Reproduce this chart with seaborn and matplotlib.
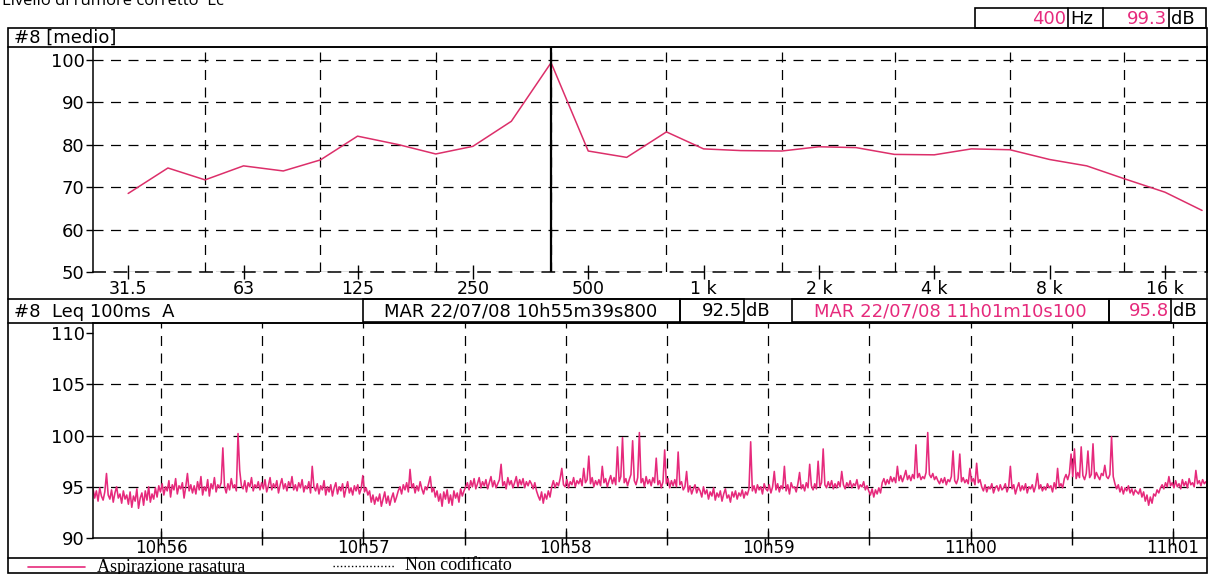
import numpy as np
import pandas as pd
import matplotlib
matplotlib.use('Agg')
import matplotlib.pyplot as plt
import matplotlib.dates as mdates
from matplotlib.patches import Rectangle
from matplotlib.ticker import NullFormatter
import seaborn as sns

# spettro medio in 1/3 di ottava (#8 [medio])
frequenze = [31.5, 40, 50, 63, 80, 100, 125, 160, 200, 250, 315, 400, 500, 630, 800,
             1000, 1250, 1600, 2000, 2500, 3150, 4000, 5000, 6300, 8000, 10000, 12500, 16000, 20000]
livelli_medi = [68.5, 74.5, 71.7, 75.0, 73.8, 76.4, 82.0, 80.0, 77.8, 79.6, 85.5, 99.3, 78.5, 77.0,
                83.0, 79.0, 78.6, 78.5, 79.5, 79.3, 77.7, 77.6, 79.0, 78.8, 76.5, 75.0, 72.0, 68.8, 64.5]
tick_freq = [31.5, 63, 125, 250, 500, 1000, 2000, 4000, 8000, 16000]
etichette_freq = ['31.5', '63', '125', '250', '500', '1 k', '2 k', '4 k', '8 k', '16 k']
griglia_freq = [50, 100, 200, 400, 800, 1600, 3150, 6300, 12500]
freq_cursore = 400

inizio = '2008-07-22 10:55:39.8'
fine = '2008-07-22 11:01:10.1'
livelli_leq = [
    94.8, 93.9, 94.6, 93.6, 94.9, 94.1, 93.7, 94.5, 96.3, 94.2, 93.8, 94.7, 93.5, 94.4, 95.0, 93.9, 94.3, 93.4, 94.6, 93.8,
    94.2, 93.3, 94.5, 93.0, 94.1, 93.6, 94.8, 92.9, 93.9, 94.4, 93.2, 94.6, 93.7, 95.0, 93.5, 94.3, 93.8, 94.9, 94.0, 95.1,
    94.5, 95.3, 94.2, 95.0, 94.6, 95.6, 94.0, 95.2, 94.7, 95.8, 94.3, 95.1, 94.8, 95.4, 93.9, 95.0, 96.3, 94.6, 95.2, 94.4,
    95.1, 94.3, 95.5, 94.7, 96.0, 94.2, 95.0, 94.6, 95.7, 94.1, 95.3, 94.8, 95.9, 94.5, 95.2, 94.9, 95.4, 98.8, 95.0, 94.4,
    95.3, 94.7, 95.8, 94.9, 95.2, 94.6, 100.2, 96.6, 95.1, 94.8, 95.6, 94.5, 95.4, 95.0, 95.9, 94.6, 95.2, 94.9, 95.5, 94.7,
    95.4, 94.8, 95.7, 94.5, 95.1, 95.9, 94.7, 95.3, 94.9, 95.6, 94.4, 95.2, 95.8, 94.8, 95.3, 94.6, 95.5, 95.0, 96.0, 94.7,
    95.2, 94.6, 95.4, 94.9, 95.7, 94.5, 95.1, 94.8, 95.5, 94.4, 97.0, 95.0, 94.6, 95.3, 94.3, 95.1, 94.7, 95.6, 94.2, 95.0,
    94.5, 95.2, 94.1, 94.9, 95.4, 94.3, 95.0, 94.6, 95.3, 94.0, 94.8, 95.5, 94.4, 94.9, 94.2, 95.1, 94.6, 95.2, 94.3, 94.8,
    96.1, 94.5, 94.9, 94.2, 94.6, 93.5, 94.2, 93.3, 94.0, 93.6, 94.3, 93.1, 93.8, 94.5, 93.4, 94.1, 93.2, 93.9, 94.4, 93.5,
    94.0, 94.6, 95.0, 94.3, 95.2, 94.7, 95.4, 94.5, 96.7, 94.9, 95.3, 94.4, 95.1, 94.6, 95.5, 94.8, 94.3, 95.0, 94.7, 95.3,
    96.0, 94.5, 94.9, 94.0, 94.6, 93.6, 94.3, 93.1, 94.5, 93.8, 94.7, 93.4, 94.2, 93.2, 94.6, 93.9, 94.4, 93.5, 94.8, 94.1,
    94.6, 95.0, 95.4, 94.7, 95.6, 95.0, 95.8, 94.8, 95.3, 95.9, 94.9, 95.5, 95.1, 95.7, 94.8, 95.4, 96.0, 95.0, 95.6, 94.9,
    95.3, 95.7, 97.2, 95.1, 95.5, 94.8, 95.9, 95.2, 95.6, 94.9, 95.4, 96.0, 95.0, 95.7, 95.2, 95.8, 94.9, 95.5, 95.1, 95.6,
    95.3, 94.8, 95.4, 94.6, 94.1, 93.7, 94.5, 93.4, 94.3, 93.8, 94.6, 94.0, 95.0, 95.6, 94.9, 95.4, 95.1, 95.8, 96.8, 95.2,
    95.0, 95.7, 94.9, 95.5, 95.2, 95.9, 95.0, 95.6, 95.3, 95.8, 95.1, 96.8, 95.4, 95.7, 98.0, 95.3, 95.9, 95.0, 95.6, 95.2,
    95.7, 95.1, 97.0, 95.4, 95.8, 95.0, 95.6, 96.1, 95.3, 95.9, 95.2, 98.9, 95.5, 96.0, 99.8, 95.4, 95.8, 95.1, 95.7, 96.2,
    99.5, 95.6, 95.2, 95.9, 100.3, 95.4, 95.8, 95.0, 96.0, 95.3, 95.7, 95.1, 95.9, 95.4, 97.8, 95.2, 95.6, 94.9, 95.5, 98.6,
    95.3, 95.8, 94.9, 95.6, 95.1, 95.7, 95.0, 98.4, 95.2, 95.5, 94.7, 95.0, 96.5, 94.5, 95.1, 94.3, 94.8, 95.2, 94.4, 94.9,
    94.6, 94.0, 95.0, 94.3, 94.7, 93.8, 94.5, 94.1, 94.9, 93.7, 94.4, 94.0, 94.6, 93.6, 94.3, 94.8, 93.9, 94.2, 93.5, 94.5,
    94.0, 94.6, 93.8, 94.4, 94.1, 94.7, 93.9, 94.5, 94.2, 94.8, 99.4, 94.6, 95.1, 94.4, 95.2, 94.7, 95.0, 94.3, 95.3, 94.8,
    94.6, 95.2, 94.4, 95.0, 96.5, 94.7, 95.3, 94.5, 95.1, 94.8, 97.0, 94.6, 95.2, 94.3, 95.4, 94.9, 95.0, 94.5, 95.3, 96.4,
    94.8, 95.2, 94.6, 95.4, 94.9, 97.2, 95.1, 94.7, 95.3, 94.8, 97.5, 95.0, 95.4, 98.7, 95.2, 94.9, 95.5, 95.0, 95.6, 94.8,
    95.3, 94.9, 95.5, 95.0, 96.5, 95.2, 94.8, 95.4, 95.0, 95.6, 94.9, 95.3, 95.1, 95.7, 94.8, 95.2, 95.0, 95.5, 94.7, 95.1,
    94.6, 94.2, 94.8, 94.0, 94.7, 94.3, 94.9, 94.4, 95.4, 95.8, 95.2, 95.7, 95.3, 96.0, 95.5, 95.9, 95.4, 97.0, 95.6, 96.1,
    95.5, 96.0, 96.6, 95.7, 96.1, 95.6, 96.2, 95.8, 99.1, 95.9, 96.3, 95.7, 96.0, 95.8, 96.4, 100.3, 96.2, 95.9, 96.3, 95.7,
    96.0, 95.6, 95.3, 95.8, 95.4, 95.9, 95.2, 95.7, 95.5, 96.0, 98.5, 95.6, 95.3, 95.8, 98.2, 95.5, 95.9, 95.4, 95.7, 95.3,
    96.8, 95.5, 95.8, 95.2, 97.3, 95.4, 95.7, 95.0, 94.6, 95.2, 94.5, 95.0, 94.8, 95.3, 94.4, 94.9, 95.1, 94.6, 95.2, 94.7,
    94.9, 95.3, 94.5, 95.0, 97.0, 94.8, 95.2, 94.3, 94.9, 95.4, 94.6, 95.1, 94.7, 95.3, 94.4, 95.0, 94.8, 95.2, 94.5, 95.1,
    96.3, 94.8, 95.2, 94.6, 95.0, 94.7, 95.3, 94.9, 95.1, 94.5, 95.4, 94.8, 96.8, 95.0, 95.3, 94.9, 95.8, 96.2, 95.7, 96.3,
    98.2, 96.0, 98.7, 95.8, 96.4, 95.9, 98.9, 96.1, 95.7, 96.3, 98.5, 95.9, 96.2, 99.2, 95.8, 96.4, 96.0, 95.7, 96.3, 96.1,
    97.1, 96.0, 95.8, 96.2, 99.9, 96.0, 95.3, 94.8, 95.2, 94.5, 95.0, 94.3, 94.9, 94.6, 95.1, 94.4, 94.8, 94.2, 94.7, 94.5,
    94.3, 94.8, 94.0, 94.5, 93.6, 94.2, 93.2, 94.0, 93.4, 94.3, 94.1, 94.7, 94.4, 94.9, 95.2, 94.8, 95.4, 95.0, 96.0, 95.1,
    95.4, 94.9, 95.6, 95.0, 95.3, 94.8, 95.7, 95.1, 95.5, 94.9, 95.8, 95.2, 95.4, 95.0, 96.6, 95.3, 95.6, 95.1, 95.7, 95.3,
    95.5,
]
etichette_ora = ['10h56', '10h57', '10h58', '10h59', '11h00', '11h01']
griglia_leq = [95, 100, 105]

sns.set_theme(style='ticks', rc={'axes.edgecolor': 'black', 'text.color': 'black',
                                 'xtick.color': 'black', 'ytick.color': 'black'})
plt.rcParams['font.family'] = ['DejaVu Sans']

W, H = 1209, 574
fig = plt.figure(figsize=(W / 100, H / 100), dpi=100)


def riquadro(x0, y0, x1, y1):
    # pixel (origine in alto a sinistra) -> coordinate figura
    return [x0 / W, 1 - y1 / H, (x1 - x0) / W, (y1 - y0) / H]


ROSA_SPETTRO = '#dc2f6a'
ROSA = '#e62a7c'
TRATTEGGIO = (0, (8, 6))
FS = 13

# --- grafico spettro ---
ax1 = fig.add_axes(riquadro(93, 47, 1207, 272))
sns.lineplot(x=frequenze, y=livelli_medi, ax=ax1, color=ROSA_SPETTRO, linewidth=1.1)
ax1.axvline(freq_cursore, color='black', linewidth=1.6, zorder=3)
ax1.set_xscale('log')
ax1.set_xlim(25.5, 20600)
ax1.set_ylim(50, 103)
ax1.set_xticks(tick_freq, etichette_freq)
ax1.set_xticks(griglia_freq, minor=True)
ax1.xaxis.set_minor_formatter(NullFormatter())
ax1.set_yticks(range(50, 101, 10))
ax1.grid(False)
ax1.grid(axis='x', which='minor', color='black', linestyle=TRATTEGGIO, linewidth=0.9)
ax1.grid(axis='y', which='major', color='black', linestyle=TRATTEGGIO, linewidth=0.9)
ax1.tick_params(axis='x', which='major', direction='inout', length=10, width=1, labelsize=12.5, pad=1)
ax1.tick_params(axis='x', which='minor', length=0)
ax1.tick_params(axis='y', direction='out', length=5, width=1, labelsize=FS, pad=1)
ax1.spines['bottom'].set_linestyle(TRATTEGGIO)
for s in ax1.spines.values():
    s.set_linewidth(1.1)
ax1.set_xlabel('')
ax1.set_ylabel('')

# --- grafico Leq nel tempo ---
ax2 = fig.add_axes(riquadro(93, 323, 1207, 538))
tempo = pd.date_range(inizio, periods=len(livelli_leq), freq='500ms')
sns.lineplot(x=tempo, y=livelli_leq, ax=ax2, color=ROSA, linewidth=1.15)
ax2.set_xlim(mdates.date2num(pd.Timestamp(inizio)), mdates.date2num(pd.Timestamp(fine)))
ax2.set_ylim(90, 111)
ore = pd.date_range('2008-07-22 10:56', periods=len(etichette_ora), freq='1min')
mezzi = ore[:-1] + pd.Timedelta(seconds=30)
ax2.set_xticks(mdates.date2num(ore), etichette_ora)
ax2.set_xticks(mdates.date2num(mezzi), minor=True)
ax2.xaxis.set_minor_formatter(NullFormatter())
ax2.set_yticks(range(90, 111, 5))
ax2.grid(False)
ax2.grid(axis='x', which='both', color='black', linestyle=TRATTEGGIO, linewidth=0.9)
for v in griglia_leq:
    ax2.axhline(v, color='black', linestyle=TRATTEGGIO, linewidth=0.9, zorder=0.5)
ax2.tick_params(axis='x', which='both', direction='inout', length=10, width=1, labelsize=12, pad=-4)
ax2.tick_params(axis='y', direction='out', length=5, width=1, labelsize=FS, pad=1)
for s in ax2.spines.values():
    s.set_linewidth(1.1)
ax2.set_xlabel('')
ax2.set_ylabel('')

# --- cornici, intestazioni e legenda (coordinate in pixel) ---
ov = fig.add_axes([0, 0, 1, 1], zorder=5)
ov.set_xlim(0, W)
ov.set_ylim(H, 0)
ov.axis('off')
ov.patch.set_alpha(0)


def linea(x0, y0, x1, y1, **kw):
    ov.plot([x0, x1], [y0, y1], color=kw.pop('color', 'black'), linewidth=kw.pop('lw', 1.2), **kw)


def casella(x0, y0, x1, y1):
    ov.add_patch(Rectangle((x0, y0), x1 - x0, y1 - y0, fill=False, edgecolor='black', linewidth=1.2))


ov.text(2, 1, 'Livello di rumore corretto  Lc', fontsize=12, family='Open Sans', ha='left', va='center')

# cornice esterna
casella(8, 28, 1207, 573)
linea(8, 47, 1207, 47)
linea(8, 299, 1207, 299)
linea(8, 323, 1207, 323)
linea(8, 558, 1207, 558)

# riquadro cursore spettro
casella(975, 8, 1206, 28)
linea(1068, 8, 1068, 28)
linea(1103, 8, 1103, 28)
linea(1169, 8, 1169, 28)
ov.text(1066, 19, '400', color=ROSA, fontsize=FS, ha='right', va='center')
ov.text(1070, 19, 'Hz', fontsize=FS, ha='left', va='center')
ov.text(1167, 19, '99.3', color=ROSA, fontsize=FS, ha='right', va='center')
ov.text(1171, 19, 'dB', fontsize=FS, ha='left', va='center')

ov.text(14, 38, '#8 [medio]', fontsize=FS, ha='left', va='center')
ov.text(14, 312, '#8  Leq 100ms  A', fontsize=FS, ha='left', va='center')

# cursori temporali
casella(363, 299, 680, 322)
casella(680, 299, 744, 322)
ov.text(521, 311, 'MAR 22/07/08 10h55m39s800', fontsize=FS, ha='center', va='center')
ov.text(742, 311, '92.5', fontsize=FS, ha='right', va='center')
ov.text(746, 311, 'dB', fontsize=FS, ha='left', va='center')

casella(792, 299, 1109, 322)
casella(1109, 299, 1171, 322)
ov.text(950, 311, 'MAR 22/07/08 11h01m10s100', color=ROSA, fontsize=FS, ha='center', va='center')
ov.text(1169, 311, '95.8', color=ROSA, fontsize=FS, ha='right', va='center')
ov.text(1173, 311, 'dB', fontsize=FS, ha='left', va='center')

# legenda
linea(28, 567, 85, 567, color=ROSA, lw=1.2)
ov.text(97, 567, 'Aspirazione rasatura', family='Liberation Serif', fontsize=13, ha='left', va='center')
linea(333, 566, 395, 566, lw=1.0, linestyle=':')
ov.text(405, 566, 'Non codificato', family='Liberation Serif', fontsize=13, ha='left', va='center')

fig.savefig('out.png', dpi=100)
